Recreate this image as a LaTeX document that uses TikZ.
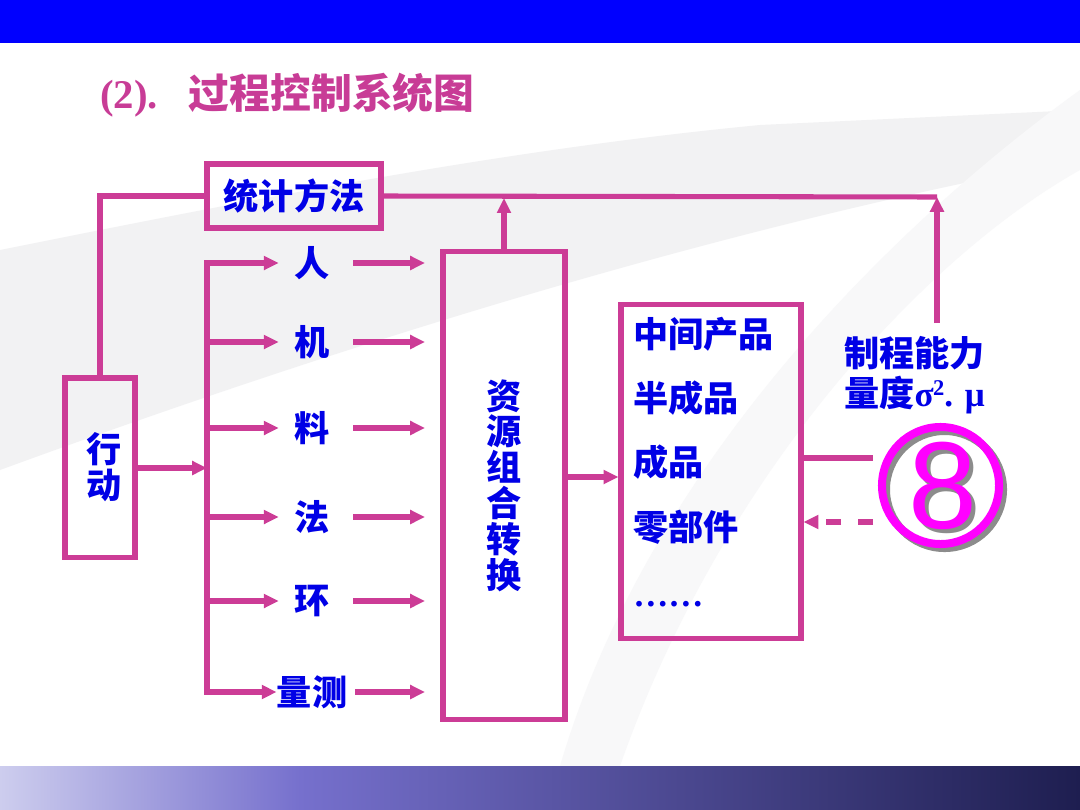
\documentclass[tikz,border=0pt]{standalone}
\usepackage{fontspec}
\setmainfont{Liberation Serif}
\newfontfamily\cjk{Noto Sans CJK SC}
\newfontfamily\sansf{Liberation Sans}
\usetikzlibrary{arrows.meta}
\definecolor{lnc}{RGB}{204,60,150}
\definecolor{txc}{RGB}{0,0,230}
\definecolor{ttlc}{RGB}{200,60,150}
\definecolor{mgc}{RGB}{255,0,255}
\definecolor{shc}{RGB}{140,140,140}
\definecolor{topbar}{RGB}{0,0,255}
\definecolor{bgA}{RGB}{205,205,238}
\definecolor{bgB}{RGB}{118,112,205}
\definecolor{bgC}{RGB}{30,30,80}
\definecolor{swA}{RGB}{242,242,243}
\definecolor{swB}{RGB}{248,248,249}
\begin{document}
\begin{tikzpicture}[x=0.025cm,y=-0.025cm,
  lnw/.style={draw=lnc, line width=3.6pt},
  arr/.style={lnw, -{Triangle[length=10.5pt,width=9.5pt]}},
  boxn/.style={draw=lnc, line width=3.6pt, inner sep=0pt},
  zh/.style={text=txc, font=\cjk\bfseries\fontsize{25}{25.5}\selectfont, inner sep=0pt},
  lbl/.style={zh, minimum width=1.65cm},
  ptxt/.style={zh, anchor=west}]
% background
\useasboundingbox (0,0) rectangle (1080,810);
\fill[white] (0,0) rectangle (1080,810);
\fill[swA] (0,250) .. controls (250,200) and (500,150) .. (760,125) -- (1080,110)
  -- (1080,160) .. controls (700,230) and (300,360) .. (0,470) -- cycle;
\fill[swB] (1080,90) .. controls (900,220) and (650,460) .. (560,766) -- (620,766)
  .. controls (720,480) and (920,260) .. (1080,170) -- cycle;
\fill[topbar] (0,0) rectangle (1080,43);
\shade[left color=bgA, right color=bgB] (0,766) rectangle (300,810);
\shade[left color=bgB, right color=bgC] (299,766) rectangle (1080,810);
% title
\node[anchor=base west, text=ttlc, inner sep=0pt] (title) at (100,108)
  {\bfseries\fontsize{29}{30}\selectfont (2).\hspace{22pt}{\cjk 过程控制系统图}};
% boxes
\node[boxn, zh, minimum width=4.35cm, minimum height=1.6cm] (stat) at (294,196) {统计方法};
\node[boxn, zh, align=center, minimum width=1.75cm, minimum height=4.475cm] (act) at (100,467.5) {\hspace*{6pt}行\\\hspace*{6pt}动};
\node[boxn, zh, align=center, minimum width=3.05cm, minimum height=11.675cm] (res) at (504,485.5) {资\\源\\组\\合\\转\\换};
\node[boxn, minimum width=4.5cm, minimum height=8.325cm] (prod) at (711,471.5) {};
% product texts
\node[ptxt] (p1) at (633,334) {中间产品};
\node[ptxt] (p2) at (633,398) {半成品};
\node[ptxt] (p3) at (633,462) {成品};
\node[ptxt] (p4) at (633,527) {零部件};
\node[anchor=base west, inner sep=0pt, text=txc, font=\bfseries\fontsize{25}{25}\selectfont] (p5) at (633,606) {……};
% factor labels
\node[lbl] (l1) at (312,263) {人};
\node[lbl] (l2) at (312,342) {机};
\node[lbl] (l3) at (312,428) {料};
\node[lbl] (l4) at (312,517) {法};
\node[lbl] (l5) at (312,601) {环};
\node[lbl] (l6) at (312,692) {量测};
% capability labels
\node[ptxt] (capA) at (844,353) {制程能力};
\node[anchor=west, inner sep=0pt, text=txc] (capB) at (844,395)
  {{\cjk\bfseries\fontsize{25}{25.5}\selectfont 量度}{\bfseries\fontsize{25}{25.5}\selectfont σ\kern-0.5pt\raisebox{0.32em}{\fontsize{16}{16}\selectfont 2}. μ}};
% circled 8
\draw[shc, line width=5.7pt] (944.5,489.5) circle (1.4625cm);
\node[circle, draw=mgc, line width=5.7pt, minimum size=2.925cm, inner sep=0pt] (c8) at (940.5,485.5) {};
\node[inner sep=0pt, text=mgc, font=\sansf\fontsize{88}{88}\selectfont] (n8) at (943,488)
  {\makebox[0pt][l]{\hspace*{2.5pt}\raisebox{-2.5pt}{\textcolor{shc}{8}}}8};
% coordinates
\coordinate (bt) at (207,263);
\coordinate (bb) at (207,692);
\coordinate (rin) at (425,263);
\coordinate (tr) at (937,197);
\coordinate (capTop) at (937,323);
\coordinate (k1) at (873,458);
\coordinate (k2) at (873,522);
% connectors
\draw[lnw] (stat.west) -| (act.north);
\draw[lnw] (stat.east) -- (tr);
\draw[arr] (capTop) -- (tr);
\draw[arr, shorten >=1.5pt] (res.north) -- (res.north |- stat.east);
\draw[arr] (act.east |- 0,468) -- (bt |- 0,468);
\draw[arr] (bb) |- (l1.west);
\draw[arr] (bt) |- (l6.west);
\foreach \k in {2,3,4,5} { \draw[arr] (l\k.west -| bt) -- (l\k.west); }
\foreach \k in {1,2,3,4,5,6} { \draw[arr, shorten <=0.2cm] (l\k.east) -- (l\k.east -| rin); }
\draw[arr] (res.east |- 0,477) -- (prod.west |- 0,477);
\draw[lnw] (prod.east |- k1) -- (k1);
\draw[arr, dash pattern=on 10.6pt off 12pt] (k2) -- (prod.east |- k2);
\end{tikzpicture}
\end{document}
